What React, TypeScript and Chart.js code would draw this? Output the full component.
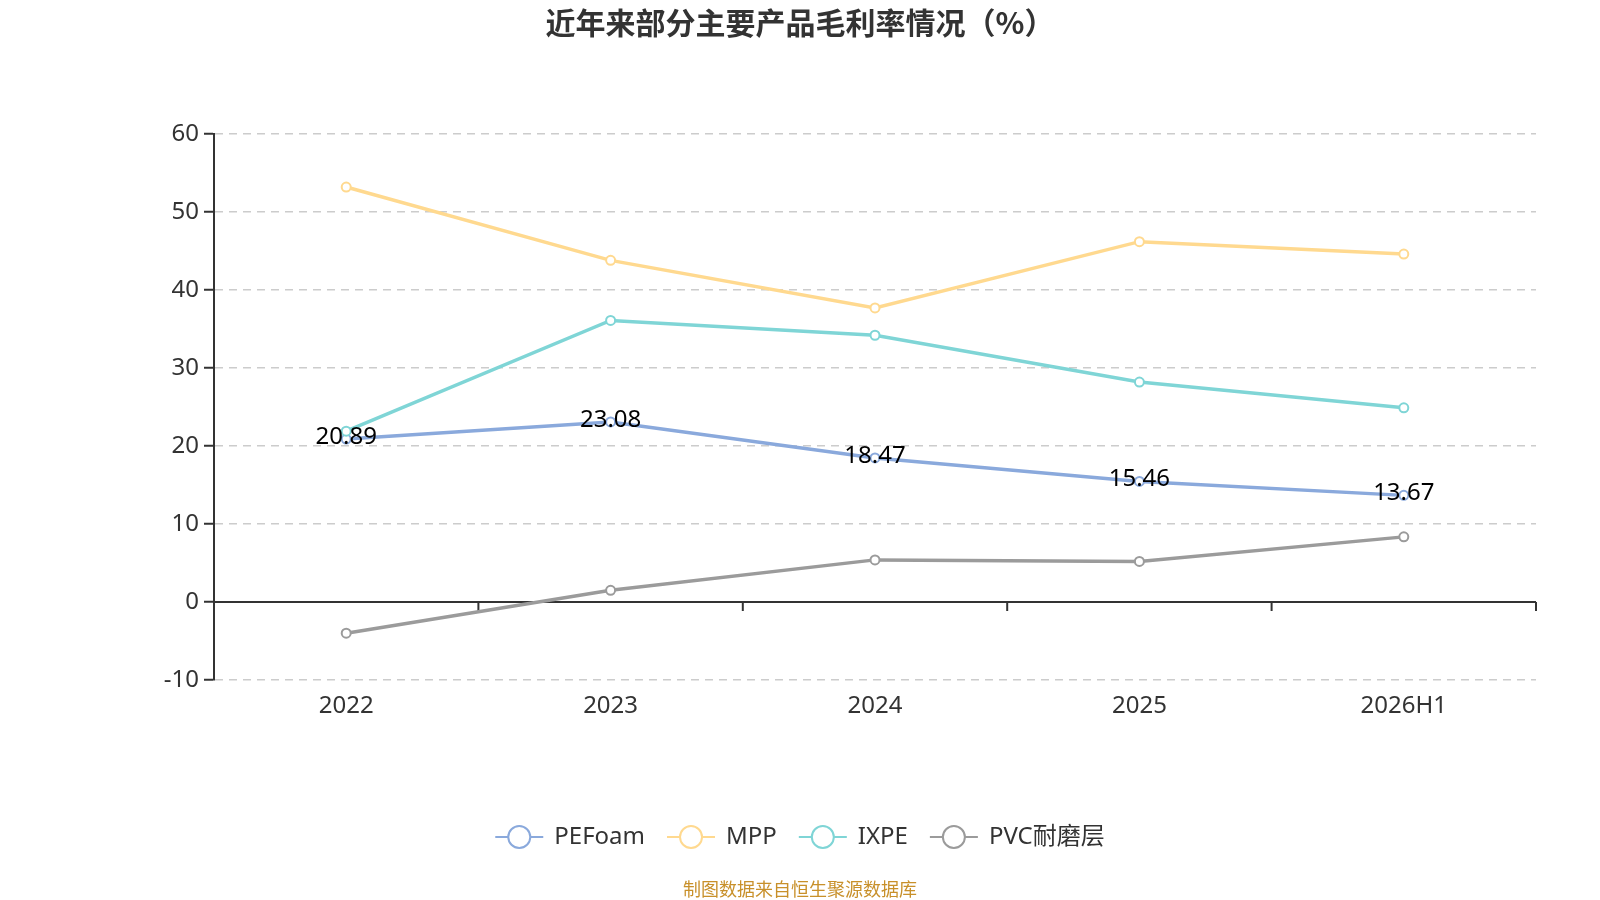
import { useEffect, useRef } from "react";
import { Chart, registerables } from "chart.js";

Chart.register(...registerables);

const categories = ["2022", "2023", "2024", "2025", "2026H1"];
const peFoam = [20.89, 23.08, 18.47, 15.46, 13.67];
const mpp = [53.2, 43.8, 37.7, 46.2, 44.6];
const ixpe = [21.9, 36.1, 34.2, 28.2, 24.9];
const pvc = [-4.0, 1.5, 5.4, 5.2, 8.35];

const seriesNames = ["PEFoam", "MPP", "IXPE", "PVC耐磨层"];
const seriesColors = ["#8aa9dc", "#ffd98f", "#7fd5d6", "#9b9b9b"];

const FONT = '"Noto Sans", "Noto Sans CJK SC", sans-serif';
const CJK = '"Noto Sans CJK SC", "Noto Sans", sans-serif';

// title, source line, zero axis, value labels and legend
const decorPlugin = {
  id: "decor",
  beforeDatasetsDraw(chart: any) {
    const { ctx, chartArea, scales } = chart;
    const y0 = scales.y.getPixelForValue(0);
    ctx.save();
    ctx.strokeStyle = "#333";
    ctx.lineWidth = 2;
    ctx.beginPath();
    ctx.moveTo(chartArea.left, y0);
    ctx.lineTo(chartArea.right, y0);
    ctx.stroke();
    // boundary ticks between categories
    const x = scales.x;
    const n = categories.length;
    for (let i = 1; i <= n; i++) {
      const px =
        i < n
          ? (x.getPixelForTick(i - 1) + x.getPixelForTick(i)) / 2
          : chartArea.right;
      ctx.beginPath();
      ctx.moveTo(px, y0);
      ctx.lineTo(px, y0 + 9);
      ctx.stroke();
    }
    ctx.restore();
  },
  afterDatasetsDraw(chart: any) {
    const { ctx } = chart;
    ctx.save();
    // labels on PEFoam
    const meta = chart.getDatasetMeta(0);
    ctx.font = `24px ${FONT}`;
    ctx.fillStyle = "#000";
    ctx.textAlign = "center";
    ctx.textBaseline = "middle";
    meta.data.forEach((pt: any, i: number) => {
      ctx.fillText(peFoam[i].toFixed(2), pt.x, pt.y - 2);
    });

    // title
    ctx.font = `bold 30px ${CJK}`;
    ctx.fillStyle = "#333";
    ctx.fillText("近年来部分主要产品毛利率情况（%）", 800, 23);

    // source
    ctx.font = `18px ${CJK}`;
    ctx.fillStyle = "#c8902a";
    ctx.fillText("制图数据来自恒生聚源数据库", 800, 889);

    // legend
    ctx.font = `24px ${FONT}`;
    const iconW = 48;
    const gapText = 11;
    const gapItem = 22;
    const widths = seriesNames.map((s) => ctx.measureText(s).width);
    const total =
      widths.reduce((a, w) => a + iconW + gapText + w, 0) +
      gapItem * (seriesNames.length - 1);
    let lx = 800 - total / 2;
    const ly = 837;
    seriesNames.forEach((name, i) => {
      ctx.strokeStyle = seriesColors[i];
      ctx.lineWidth = 2;
      ctx.beginPath();
      ctx.moveTo(lx, ly);
      ctx.lineTo(lx + iconW, ly);
      ctx.stroke();
      ctx.beginPath();
      ctx.arc(lx + iconW / 2, ly, 11, 0, Math.PI * 2);
      ctx.fillStyle = "#fff";
      ctx.fill();
      ctx.stroke();
      ctx.fillStyle = "#333";
      ctx.textAlign = "left";
      ctx.fillText(name, lx + iconW + gapText, ly);
      lx += iconW + gapText + widths[i] + gapItem;
    });
    ctx.restore();
  },
};

export default function App() {
  const canvasRef = useRef<HTMLCanvasElement>(null);

  useEffect(() => {
    if (!canvasRef.current) return;
    const all = [peFoam, mpp, ixpe, pvc];
    const chart = new Chart(canvasRef.current, {
      type: "line",
      data: {
        labels: categories,
        datasets: all.map((d, i) => ({
          label: seriesNames[i],
          data: d,
          borderColor: seriesColors[i],
          backgroundColor: "#fff",
          pointBackgroundColor: "#fff",
          pointBorderColor: seriesColors[i],
          pointBorderWidth: 2,
          pointRadius: 4.5,
          borderWidth: 3.5,
          tension: 0,
          order: 4 - i,
        })),
      },
      options: {
        animation: false,
        responsive: true,
        maintainAspectRatio: false,
        devicePixelRatio: 1,
        layout: { padding: { top: 134, right: 64, left: 0, bottom: 0 } },
        plugins: {
          legend: { display: false },
          title: { display: false },
          tooltip: { enabled: false },
        },
        scales: {
          x: {
            offset: true,
            grid: { display: false, drawTicks: false },
            border: { display: false },
            ticks: { color: "#333", font: { size: 24, family: FONT }, padding: 12 },
            afterFit: (s: any) => {
              s.height = 220;
            },
          },
          y: {
            min: -10,
            max: 60,
            ticks: {
              stepSize: 10,
              color: "#333",
              font: { size: 24, family: FONT },
              padding: 5,
            },
            grid: {
              color: (c: any) => (c.tick && c.tick.value === 0 ? "transparent" : "#cccccc"),
              lineWidth: 1.5,
              tickLength: 10,
              tickColor: "#333",
              tickWidth: 2,
            },
            border: { display: true, color: "#333", width: 2, dash: [8, 6] },
            afterFit: (s: any) => {
              s.width = 214;
            },
          },
        },
      },
      plugins: [decorPlugin],
    } as any);
    return () => chart.destroy();
  }, []);

  return (
    <div
      style={{
        position: "fixed",
        left: 0,
        top: 0,
        width: 1600,
        height: 900,
        background: "#fff",
      }}
    >
      <canvas ref={canvasRef} />
    </div>
  );
}
